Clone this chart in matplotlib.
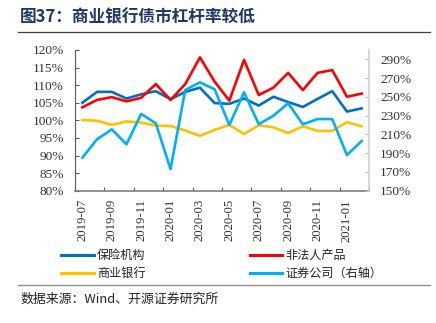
import numpy as np
import matplotlib
matplotlib.use("Agg")
import matplotlib.pyplot as plt
from matplotlib.lines import Line2D

plt.rcParams['font.family'] = ['Noto Sans CJK SC', 'DejaVu Sans']

months = ["2019-07", "2019-08", "2019-09", "2019-10", "2019-11", "2019-12",
          "2020-01", "2020-02", "2020-03", "2020-04", "2020-05", "2020-06",
          "2020-07", "2020-08", "2020-09", "2020-10", "2020-11", "2020-12",
          "2021-01", "2021-02"]
insurance = [105.0, 108.1, 108.1, 106.2, 107.4, 108.3, 106.0, 108.1, 109.3, 104.9,
             104.7, 106.2, 104.2, 106.7, 105.2, 103.8, 106.1, 108.3, 102.5, 103.4]
nonlegal = [103.7, 105.8, 106.6, 105.4, 106.4, 110.3, 105.8, 110.3, 117.9, 111.0,
            105.6, 117.2, 107.2, 109.3, 113.5, 108.6, 113.5, 114.3, 106.7, 107.6]
banks = [100.1, 99.9, 98.7, 99.7, 99.4, 98.5, 98.4, 97.1, 95.6, 97.3,
         98.7, 96.1, 98.6, 98.0, 96.4, 98.3, 97.0, 97.0, 99.5, 98.3]
brokers = [185.2, 204.8, 215.4, 199.5, 231.8, 221.8, 173.0, 257.4, 265.5, 258.1,
           220.0, 254.9, 220.8, 230.0, 243.2, 220.8, 226.4, 226.4, 188.0, 203.0]

C_INS = "#0070C0"
C_NON = "#FF0000"
C_BANK = "#FFC000"
C_BRK = "#00B0F0"
serif = "Liberation Serif"
tick_fs = 9.6

fig = plt.figure(figsize=(4.36, 3.23), dpi=100)
ax = fig.add_axes([75 / 436, 1 - 190.7 / 323, 294 / 436, 140.7 / 323])
ax2 = ax.twinx()

x = np.arange(len(months))
lw = 1.9
ax.plot(x, insurance, color=C_INS, lw=lw, zorder=3)
ax.plot(x, nonlegal, color=C_NON, lw=lw, zorder=3)
ax.plot(x, banks, color=C_BANK, lw=lw, zorder=3)
ax2.plot(x, brokers, color=C_BRK, lw=lw, zorder=3)

ax.set_xlim(-0.5, len(months) - 0.5)
ax.set_ylim(80, 120)
ax2.set_ylim(150, 300)

ax.set_yticks(np.arange(80, 121, 5))
ax.set_yticklabels([f"{v}%" for v in range(80, 121, 5)], fontfamily=serif, fontsize=tick_fs, color="#333333")
ax2.set_yticks(np.arange(150, 300, 20))
ax2.set_yticklabels([f"{v}%" for v in range(150, 300, 20)], fontfamily=serif, fontsize=tick_fs, color="#333333")

# tick marks at boundaries, labels at category centres
ax.set_xticks(np.arange(-0.5, len(months), 2))
ax.set_xticklabels([])
ax.set_xticks(np.arange(0, len(months), 2), minor=True)
ax.set_xticklabels(months[::2], minor=True, rotation=90, fontfamily=serif, fontsize=9.2, color="#333333")
ax.tick_params(axis='x', which='major', direction='in', length=3, color="#595959")
ax.tick_params(axis='x', which='minor', length=0, pad=6)
ax.tick_params(axis='y', direction='in', length=3, color="#595959", pad=8)
ax2.tick_params(axis='y', direction='in', length=3, color="#bfbfbf", pad=8)

for a in (ax, ax2):
    a.spines['top'].set_visible(False)
ax.spines['left'].set_color("#595959")
ax.spines['bottom'].set_color("#808080")
ax.spines['right'].set_visible(False)
ax2.spines['left'].set_visible(False)
ax2.spines['bottom'].set_visible(False)
ax2.spines['right'].set_color("#d0d0d0")
ax2.spines['right'].set_linewidth(1.2)
ax.spines['bottom'].set_linewidth(1.2)

# title and rules
fig.text(20 / 436, 1 - 17 / 323, "图37：商业银行债市杠杆率较低", fontsize=12, fontweight='bold',
         color="#1F3864", va='center', ha='left')
fig.add_artist(Line2D([18 / 436, 430 / 436], [1 - 32 / 323] * 2, color="#404040", lw=0.9))
fig.add_artist(Line2D([18 / 436, 430 / 436], [1 - 285 / 323] * 2, color="#909090", lw=1.0))
fig.text(20 / 436, 1 - 299 / 323, "数据来源：Wind、开源证券研究所", fontsize=9.3,
         color="#222222", va='center', ha='left')

handles = [Line2D([], [], color=C_INS, lw=2.2), Line2D([], [], color=C_BANK, lw=2.2),
           Line2D([], [], color=C_NON, lw=2.2), Line2D([], [], color=C_BRK, lw=2.2)]
labels = ["保险机构", "商业银行", "非法人产品", "证券公司（右轴）"]
fig.legend(handles, labels, ncol=2, frameon=False, fontsize=8.7,
           loc='upper left', bbox_to_anchor=(50 / 436, 1 - 238 / 323),
           handlelength=2.7, handletextpad=0.3, columnspacing=8.6, labelspacing=0.45,
           labelcolor="#222222")

fig.savefig("out.png", dpi=100)
